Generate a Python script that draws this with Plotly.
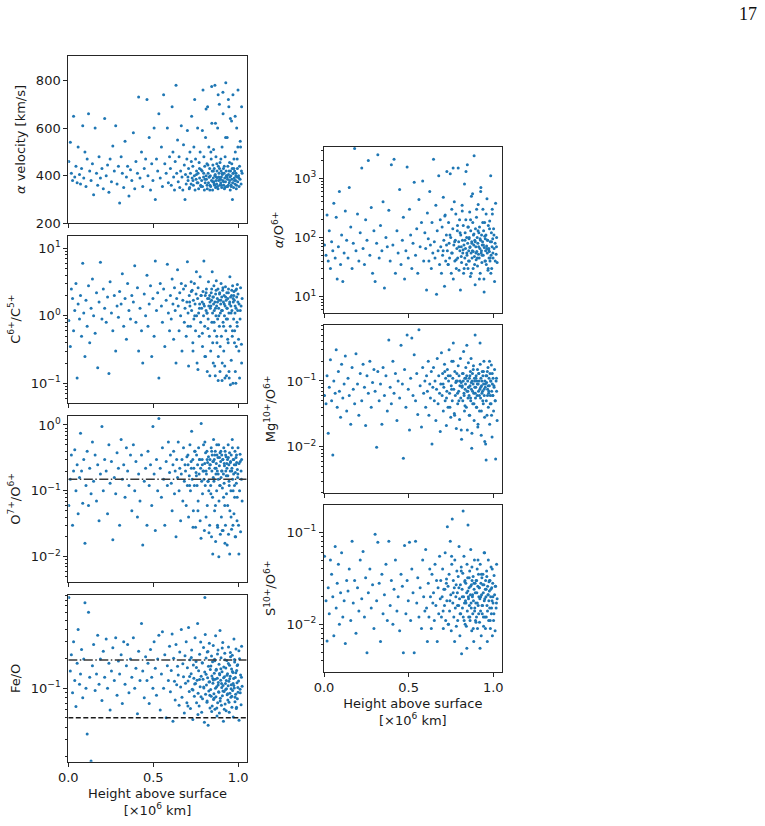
import math
import plotly.graph_objects as go

# ---------------- data ----------------
HEIGHT = [
    0.003, 0.012, 0.018, 0.025, 0.031, 0.038, 0.045, 0.052, 0.058, 0.066,
    0.072, 0.078, 0.085, 0.091, 0.098, 0.104, 0.111, 0.119, 0.126, 0.134,
    0.142, 0.149, 0.158, 0.166, 0.173, 0.181, 0.189, 0.198, 0.206, 0.214,
    0.223, 0.231, 0.239, 0.246, 0.254, 0.262, 0.271, 0.279, 0.287, 0.295,
    0.302, 0.311, 0.318, 0.326, 0.334, 0.342, 0.349, 0.357, 0.366, 0.374,
    0.383, 0.391, 0.398, 0.407, 0.414, 0.422, 0.431, 0.438, 0.447, 0.455,
    0.463, 0.469, 0.476, 0.484, 0.491, 0.498, 0.505, 0.512, 0.519, 0.526,
    0.533, 0.541, 0.548, 0.554, 0.561, 0.568, 0.576, 0.583, 0.589, 0.596,
    0.601, 0.606, 0.611, 0.616, 0.620, 0.625, 0.629, 0.634, 0.638, 0.643,
    0.647, 0.652, 0.656, 0.661, 0.665, 0.669, 0.674, 0.678, 0.683, 0.687,
    0.690, 0.694, 0.698, 0.701, 0.705, 0.708, 0.712, 0.716, 0.719, 0.723,
    0.726, 0.729, 0.733, 0.736, 0.739, 0.742, 0.746, 0.749, 0.752, 0.755,
    0.758, 0.761, 0.764, 0.767, 0.770, 0.773, 0.776, 0.779, 0.782, 0.785,
    0.788, 0.790, 0.793, 0.796, 0.798, 0.801, 0.803, 0.806, 0.808, 0.811,
    0.813, 0.816, 0.818, 0.820, 0.823, 0.825, 0.827, 0.830, 0.832, 0.834,
    0.836, 0.838, 0.841, 0.843, 0.845, 0.847, 0.849, 0.851, 0.853, 0.855,
    0.857, 0.859, 0.861, 0.863, 0.865, 0.867, 0.869, 0.871, 0.873, 0.875,
    0.877, 0.879, 0.881, 0.883, 0.885, 0.887, 0.889, 0.891, 0.893, 0.895,
    0.897, 0.899, 0.901, 0.903, 0.905, 0.907, 0.909, 0.911, 0.913, 0.915,
    0.917, 0.919, 0.921, 0.923, 0.925, 0.927, 0.929, 0.931, 0.933, 0.935,
    0.937, 0.939, 0.941, 0.943, 0.945, 0.947, 0.949, 0.951, 0.953, 0.955,
    0.957, 0.959, 0.961, 0.963, 0.965, 0.967, 0.969, 0.971, 0.973, 0.975,
    0.977, 0.979, 0.981, 0.983, 0.985, 0.987, 0.989, 0.991, 0.993, 0.995,
    0.997, 0.999, 1.002, 1.005, 1.008, 1.011, 1.014, 1.017, 1.020, 1.023,
    0.704, 0.714, 0.724, 0.734, 0.744, 0.754, 0.763, 0.772, 0.781, 0.789,
    0.797, 0.804, 0.811, 0.817, 0.822, 0.828, 0.833, 0.839, 0.844, 0.850,
    0.854, 0.858, 0.862, 0.866, 0.870, 0.874, 0.878, 0.882, 0.886, 0.890,
    0.894, 0.898, 0.902, 0.906, 0.910, 0.914, 0.918, 0.922, 0.926, 0.930,
    0.934, 0.938, 0.942, 0.946, 0.950, 0.954, 0.958, 0.962, 0.966, 0.970,
    0.974, 0.978, 0.982, 0.986, 0.990, 0.994, 0.998, 1.004, 1.012, 1.019,
]

ALPHA_VELOCITY = [
    460, 540, 410, 380, 650, 395, 440, 370, 520, 405,
    365, 430, 610, 390, 500, 355, 470, 660, 420, 380,
    450, 320, 600, 410, 360, 480, 390, 430, 345, 640,
    400, 445, 330, 470, 375, 525, 420, 610, 365, 440,
    285, 480, 410, 350, 545, 395, 440, 315, 425, 380,
    580, 345, 460, 410, 730, 390, 500, 355, 430, 470,
    720, 400, 560, 340, 450, 380, 600, 300, 470, 420,
    660, 390, 520, 355, 740, 450, 410, 600, 370, 480,
    430, 360, 690, 500, 395, 340, 460, 780, 410, 550,
    375, 480, 350, 420, 610, 395, 340, 530, 445, 300,
    405, 365, 470, 590, 380, 430, 345, 500, 410, 365,
    650, 390, 440, 360, 520, 400, 340, 470, 385, 420,
    370, 600, 410, 345, 455, 390, 500, 360, 425, 380,
    420, 355, 760, 395, 480, 340, 440, 370, 560, 400,
    385, 450, 345, 690, 410, 370, 520, 395, 430, 360,
    400, 355, 470, 380, 620, 420, 340, 445, 390, 510,
    375, 430, 360, 780, 405, 350, 480, 395, 365, 420,
    390, 600, 345, 440, 380, 410, 700, 360, 455, 385,
    370, 420, 395, 350, 520, 405, 380, 660, 430, 360,
    410, 345, 390, 480, 375, 790, 420, 355, 400, 560,
    385, 440, 360, 405, 690, 370, 455, 395, 340, 420,
    400, 355, 630, 385, 430, 370, 740, 410, 350, 470,
    390, 420, 365, 500, 380, 410, 345, 600, 395, 430,
    375, 760, 400, 355, 440, 385, 520, 365, 690, 410,
    395, 350, 460, 380, 720, 405, 370, 430, 355, 590,
    410, 385, 680, 360, 445, 395, 340, 500, 775, 375,
    420, 365, 400, 620, 380, 450, 355, 740, 395, 430,
    385, 470, 360, 410, 750, 375, 440, 350, 560, 400,
    395, 355, 720, 420, 380, 640, 360, 450, 300, 410,
    430, 380, 650, 400, 360, 470, 520, 390, 545, 420,
]

C6_C5 = [
    0.85, 0.35, 2.5, 1.8, 0.6, 1.2, 3.0, 0.12, 1.5, 0.9,
    2.0, 0.5, 6.0, 1.1, 0.25, 1.7, 0.7, 2.8, 0.4, 1.3,
    3.5, 1.0, 0.55, 2.2, 0.17, 1.6, 6.2, 0.9, 2.5, 1.3,
    0.8, 1.9, 0.14, 3.2, 1.1, 0.6, 2.0, 0.3, 1.4, 0.95,
    2.3, 1.5, 4.2, 0.7, 1.8, 0.45, 3.0, 1.2, 0.9, 2.0,
    1.6, 5.5, 0.8, 2.6, 0.3, 1.3, 0.6, 0.2, 2.1, 1.0,
    4.0, 0.7, 1.5, 2.8, 0.25, 1.8, 0.5, 6.5, 1.2, 2.2,
    0.12, 3.0, 1.4, 0.8, 2.5, 0.35, 1.7, 5.8, 1.1, 0.6,
    2.0, 0.9, 3.5, 1.5, 0.45, 2.6, 1.2, 0.2, 1.8, 4.8,
    1.4, 0.6, 2.2, 1.0, 3.0, 0.3, 1.7, 2.5, 0.8, 1.3,
    2.8, 0.5, 1.6, 6.3, 1.1, 0.18, 2.0, 1.4, 0.7, 3.2,
    1.2, 2.4, 0.4, 1.7, 0.9, 3.0, 1.5, 0.6, 2.1, 1.0,
    0.2, 1.8, 2.6, 1.1, 0.5, 1.5, 3.8, 0.8, 2.0, 1.3,
    1.6, 0.35, 2.3, 1.0, 6.5, 1.4, 0.7, 2.0, 0.25, 1.2,
    2.5, 1.1, 0.15, 1.8, 0.9, 3.2, 1.4, 0.5, 2.0, 1.6,
    1.3, 0.3, 2.2, 1.7, 0.8, 4.5, 1.1, 1.9, 0.2, 1.5,
    2.8, 1.2, 0.6, 1.6, 0.13, 2.1, 1.0, 3.3, 1.4, 0.4,
    1.8, 0.9, 2.5, 0.25, 1.3, 1.7, 0.7, 2.2, 0.15, 1.1,
    1.5, 3.0, 0.5, 1.9, 0.11, 1.2, 2.4, 0.8, 1.6, 0.3,
    2.0, 1.0, 0.18, 1.4, 2.7, 0.6, 1.7, 0.13, 2.2, 1.3,
    0.9, 1.8, 0.4, 2.5, 1.1, 0.12, 1.5, 3.8, 0.7, 1.9,
    1.4, 0.22, 2.0, 1.2, 0.5, 2.8, 0.1, 1.6, 0.9, 2.3,
    1.7, 0.6, 1.1, 0.15, 2.4, 1.3, 0.35, 1.9, 0.8, 2.9,
    1.2, 2.1, 0.45, 1.5, 0.12, 0.9, 2.6, 1.4, 0.2, 1.8,
    0.7, 1.6, 2.3, 0.3, 1.0, 4.5, 0.16, 1.3, 2.0, 0.55,
    1.5, 0.25, 2.2, 1.1, 0.65, 1.8, 0.13, 1.4, 2.5, 0.4,
    1.9, 0.8, 0.18, 1.3, 2.4, 0.5, 1.6, 0.11, 1.0, 2.1,
    0.35, 1.7, 1.2, 0.2, 2.6, 0.7, 1.5, 0.12, 1.9, 0.9,
    1.3, 0.45, 2.2, 0.15, 1.6, 0.095, 1.1, 2.4, 0.6, 1.8,
    2.0, 0.4, 1.4, 0.1, 2.5, 0.7, 1.6, 0.3, 1.2, 0.38,
]

O7_O6 = [
    0.06, 0.15, 0.35, 0.03, 0.2, 0.42, 0.1, 0.25, 0.045, 0.16,
    0.75, 0.2, 0.065, 0.3, 0.016, 0.12, 0.4, 0.06, 0.22, 0.09,
    0.55, 0.14, 0.35, 0.07, 0.25, 0.035, 0.18, 0.95, 0.1, 0.3,
    0.2, 0.045, 0.5, 0.13, 0.28, 0.018, 0.16, 0.09, 0.38, 0.22,
    0.03, 0.6, 0.15, 0.25, 0.08, 0.45, 0.2, 0.12, 0.35, 0.05,
    0.5, 0.1, 0.28, 0.04, 0.18, 0.07, 0.35, 0.015, 0.14, 0.22,
    0.03, 0.4, 0.12, 0.25, 0.06, 0.95, 0.18, 0.025, 0.3, 0.1,
    1.25, 0.22, 0.08, 0.45, 0.15, 0.03, 0.28, 0.12, 0.55, 0.19,
    0.35, 0.13, 0.05, 0.25, 0.4, 0.09, 0.2, 0.02, 0.3, 0.16,
    0.55, 0.1, 0.22, 0.035, 0.18, 0.3, 0.07, 0.45, 0.14, 0.25,
    0.2, 0.06, 0.33, 0.12, 0.25, 0.04, 0.17, 0.5, 0.1, 0.28,
    0.8, 0.15, 0.3, 0.05, 0.22, 0.12, 0.4, 0.028, 0.19, 0.35,
    0.12, 0.25, 0.07, 0.45, 0.18, 0.3, 0.035, 0.22, 1.05, 0.14,
    0.3, 0.09, 0.2, 0.5, 0.15, 0.025, 0.26, 0.12, 0.38, 0.2,
    0.18, 0.4, 0.06, 0.27, 0.14, 0.33, 0.1, 0.22, 0.03, 0.3,
    0.25, 0.12, 0.45, 0.02, 0.2, 0.35, 0.08, 0.28, 0.16, 0.6,
    0.14, 0.3, 0.05, 0.22, 0.4, 0.017, 0.18, 0.26, 0.1, 0.35,
    0.2, 0.028, 0.32, 0.15, 0.5, 0.07, 0.24, 0.12, 0.38, 0.022,
    0.28, 0.16, 0.04, 0.35, 0.2, 0.11, 0.3, 0.025, 0.18, 0.45,
    0.13, 0.24, 0.06, 0.4, 0.03, 0.2, 0.33, 0.09, 0.26, 0.015,
    0.3, 0.17, 0.5, 0.022, 0.25, 0.12, 0.38, 0.05, 0.2, 0.28,
    0.1, 0.35, 0.026, 0.22, 0.6, 0.15, 0.03, 0.3, 0.18, 0.045,
    0.25, 0.08, 0.4, 0.19, 0.02, 0.32, 0.13, 0.27, 0.035, 0.21,
    0.16, 0.45, 0.03, 0.26, 0.1, 0.36, 0.024, 0.2, 0.3, 0.07,
    0.35, 0.12, 0.22, 0.028, 0.4, 0.17, 0.05, 0.3, 0.019, 0.25,
    0.2, 0.55, 0.04, 0.3, 0.14, 0.023, 0.25, 0.09, 0.4, 0.011,
    0.28, 0.15, 0.35, 0.06, 0.22, 0.5, 0.03, 0.18, 0.01, 0.32,
    0.12, 0.4, 0.2, 0.025, 0.3, 0.08, 0.26, 0.016, 0.35, 0.17,
    0.22, 0.06, 0.32, 0.14, 0.011, 0.27, 0.04, 0.2, 0.45, 0.1,
    0.3, 0.12, 0.02, 0.25, 0.35, 0.08, 0.18, 0.011, 0.28, 0.15,
]

FE_O = [
    0.85, 0.15, 0.22, 0.09, 0.3, 0.12, 0.065, 0.18, 0.4, 0.11,
    0.14, 0.25, 0.08, 0.2, 0.75, 0.1, 0.034, 0.6, 0.13, 0.018,
    0.17, 0.28, 0.095, 0.14, 0.35, 0.11, 0.2, 0.075, 0.24, 0.13,
    0.32, 0.1, 0.18, 0.06, 0.15, 0.26, 0.12, 0.33, 0.085, 0.19,
    0.14, 0.22, 0.07, 0.3, 0.11, 0.17, 0.28, 0.09, 0.2, 0.13,
    0.33, 0.1, 0.16, 0.055, 0.24, 0.12, 0.46, 0.15, 0.08, 0.21,
    0.12, 0.18, 0.07, 0.25, 0.13, 0.1, 0.3, 0.16, 0.085, 0.2,
    0.35, 0.06, 0.14, 0.38, 0.1, 0.22, 0.05, 0.17, 0.12, 0.27,
    0.092, 0.152, 0.36, 0.046, 0.203, 0.118, 0.076, 0.28, 0.109, 0.168,
    0.137, 0.067, 0.236, 0.103, 0.4, 0.081, 0.178, 0.131, 0.056, 0.216,
    0.113, 0.3, 0.071, 0.162, 0.119, 0.42, 0.093, 0.196, 0.062, 0.141,
    0.247, 0.098, 0.048, 0.173, 0.127, 0.083, 0.33, 0.112, 0.188, 0.071,
    0.121, 0.46, 0.089, 0.151, 0.066, 0.223, 0.104, 0.298, 0.133, 0.057,
    0.183, 0.078, 0.124, 0.262, 0.101, 0.045, 0.147, 0.355, 0.087, 0.204,
    0.108, 0.072, 0.236, 0.128, 0.042, 0.168, 0.094, 0.29, 0.117, 0.063,
    0.156, 0.097, 0.083, 0.214, 0.134, 0.066, 0.187, 0.113, 0.275, 0.077,
    0.088, 0.143, 0.198, 0.061, 0.124, 0.345, 0.082, 0.157, 0.104, 0.052,
    0.127, 0.071, 0.246, 0.115, 0.092, 0.176, 0.056, 0.138, 0.39, 0.079,
    0.121, 0.205, 0.067, 0.102, 0.148, 0.084, 0.295, 0.107, 0.046, 0.165,
    0.093, 0.131, 0.228, 0.069, 0.112, 0.161, 0.059, 0.099, 0.193, 0.086,
    0.141, 0.076, 0.106, 0.265, 0.118, 0.057, 0.172, 0.089, 0.133, 0.21,
    0.081, 0.109, 0.158, 0.064, 0.218, 0.095, 0.145, 0.051, 0.126, 0.32,
    0.101, 0.186, 0.073, 0.129, 0.087, 0.252, 0.062, 0.152, 0.114, 0.078,
    0.174, 0.091, 0.119, 0.047, 0.201, 0.098, 0.137, 0.068, 0.27, 0.105,
    0.066, 0.132, 0.207, 0.096, 0.111, 0.163, 0.054, 0.123, 0.082, 0.182,
    0.103, 0.85, 0.139, 0.074, 0.238, 0.116, 0.085, 0.169, 0.058, 0.126,
    0.122, 0.079, 0.191, 0.1, 0.153, 0.063, 0.224, 0.108, 0.091, 0.142,
    0.074, 0.159, 0.112, 0.258, 0.094, 0.128, 0.061, 0.196, 0.097, 0.12,
    0.136, 0.088, 0.179, 0.072, 0.125, 0.232, 0.099, 0.083, 0.149, 0.112,
    0.107, 0.197, 0.081, 0.144, 0.064, 0.171, 0.102, 0.242, 0.09, 0.13,
]

ALPHA_O6 = [
    75, 50, 240, 40, 130, 30, 85, 60, 380, 45,
    220, 20, 70, 600, 35, 110, 18, 55, 280, 90,
    45, 700, 150, 30, 80, 3200, 60, 250, 40, 120,
    1500, 65, 35, 200, 90, 2000, 50, 320, 25, 130,
    18, 80, 2500, 45, 160, 60, 400, 14, 100, 70,
    290, 40, 1700, 75, 2100, 25, 130, 55, 650, 35,
    90, 220, 20, 60, 1550, 45, 300, 110, 30, 80,
    860, 50, 140, 25, 440, 70, 180, 900, 40, 120,
    65, 13, 260, 95, 40, 600, 75, 30, 180, 55,
    2100, 85, 45, 350, 11, 130, 60, 1100, 35, 200,
    70, 25, 150, 50, 480, 90, 15, 240, 40, 110,
    1300, 60, 35, 180, 80, 45, 1200, 100, 25, 300,
    55, 140, 20, 75, 400, 40, 90, 250, 30, 65,
    130, 45, 1500, 85, 28, 200, 60, 13, 110, 70,
    38, 350, 90, 55, 160, 25, 75, 800, 45, 120,
    65, 200, 35, 100, 50, 1700, 80, 30, 150, 60,
    95, 40, 270, 70, 22, 130, 55, 500, 85, 45,
    60, 180, 30, 110, 75, 2400, 48, 90, 16, 140,
    70, 42, 220, 58, 100, 33, 80, 360, 52, 120,
    45, 150, 65, 25, 90, 700, 55, 110, 38, 75,
    85, 300, 50, 130, 20, 68, 180, 40, 95, 60,
    110, 35, 72, 450, 55, 90, 28, 160, 62, 45,
    58, 190, 40, 85, 1100, 50, 120, 30, 70, 250,
    95, 45, 140, 65, 18, 80, 380, 52, 100, 38,
    60, 230, 75, 35, 110, 55, 1500, 85, 42, 160,
    70, 120, 48, 280, 62, 30, 90, 1300, 55, 150,
    40, 100, 68, 200, 25, 80, 550, 58, 115, 35,
    85, 55, 300, 45, 130, 70, 20, 95, 600, 60,
    50, 180, 75, 12, 105, 40, 250, 65, 90, 30,
    65, 140, 45, 25, 85, 300, 55, 110, 40, 70,
]

MG10_O6 = [
    0.06, 0.045, 0.12, 0.016, 0.08, 0.21, 0.05, 0.0075, 0.1, 0.065,
    0.3, 0.04, 0.14, 0.07, 0.028, 0.18, 0.055, 0.09, 0.24, 0.035,
    0.11, 0.06, 0.022, 0.16, 0.075, 0.045, 0.26, 0.09, 0.03, 0.13,
    0.05, 0.18, 0.08, 0.021, 0.12, 0.065, 0.2, 0.04, 0.095, 0.15,
    0.07, 0.0098, 0.14, 0.05, 0.09, 0.022, 0.16, 0.06, 0.12, 0.035,
    0.42, 0.08, 0.045, 0.2, 0.065, 0.13, 0.025, 0.1, 0.055, 0.35,
    0.09, 0.0067, 0.15, 0.04, 0.5, 0.075, 0.018, 0.11, 0.45, 0.06,
    0.25, 0.05, 0.13, 0.031, 0.6, 0.085, 0.02, 0.16, 0.065, 0.1,
    0.04, 0.12, 0.07, 0.2, 0.03, 0.09, 0.055, 0.14, 0.011, 0.08,
    0.16, 0.05, 0.1, 0.025, 0.075, 0.22, 0.045, 0.12, 0.065, 0.017,
    0.09, 0.27, 0.06, 0.13, 0.035, 0.08, 0.18, 0.05, 0.11, 0.021,
    0.07, 0.15, 0.04, 0.1, 0.3, 0.065, 0.12, 0.028, 0.085, 0.2,
    0.05, 0.11, 0.38, 0.075, 0.032, 0.14, 0.06, 0.095, 0.019, 0.13,
    0.1, 0.045, 0.17, 0.07, 0.12, 0.026, 0.085, 0.22, 0.055, 0.095,
    0.013, 0.08, 0.13, 0.05, 0.1, 0.28, 0.065, 0.035, 0.11, 0.075,
    0.09, 0.16, 0.04, 0.12, 0.07, 0.018, 0.1, 0.055, 0.19, 0.08,
    0.06, 0.11, 0.03, 0.085, 0.14, 0.05, 0.22, 0.075, 0.0095, 0.1,
    0.13, 0.045, 0.09, 0.17, 0.065, 0.025, 0.11, 0.08, 0.5, 0.055,
    0.08, 0.12, 0.04, 0.1, 0.06, 0.15, 0.02, 0.09, 0.07, 0.13,
    0.1, 0.035, 0.075, 0.18, 0.055, 0.11, 0.015, 0.085, 0.065, 0.14,
    0.07, 0.12, 0.045, 0.09, 0.2, 0.06, 0.028, 0.1, 0.08, 0.011,
    0.12, 0.05, 0.095, 0.03, 0.14, 0.075, 0.16, 0.04, 0.065, 0.11,
    0.085, 0.022, 0.13, 0.06, 0.1, 0.045, 0.175, 0.07, 0.014, 0.09,
    0.06, 0.11, 0.035, 0.08, 0.15, 0.05, 0.0065, 0.1, 0.07, 0.025,
    0.09, 0.14, 0.055, 0.12, 0.04, 0.075, 0.2, 0.03, 0.1, 0.065,
    0.05, 0.1, 0.018, 0.085, 0.13, 0.06, 0.042, 0.11, 0.35, 0.07,
    0.08, 0.03, 0.12, 0.055, 0.095, 0.016, 0.07, 0.15, 0.045, 0.1,
    0.065, 0.11, 0.04, 0.09, 0.022, 0.13, 0.06, 0.38, 0.08, 0.035,
    0.1, 0.05, 0.14, 0.075, 0.012, 0.09, 0.0063, 0.12, 0.06, 0.085,
    0.07, 0.2, 0.045, 0.1, 0.03, 0.13, 0.06, 0.085, 0.05, 0.11,
]

S10_O6 = [
    0.055, 0.018, 0.0066, 0.025, 0.013, 0.05, 0.035, 0.02, 0.0075, 0.07,
    0.015, 0.028, 0.045, 0.01, 0.022, 0.06, 0.012, 0.018, 0.0062, 0.03,
    0.023, 0.04, 0.011, 0.08, 0.017, 0.03, 0.008, 0.025, 0.014, 0.05,
    0.019, 0.062, 0.012, 0.032, 0.0049, 0.022, 0.04, 0.015, 0.027, 0.009,
    0.095, 0.018, 0.078, 0.028, 0.0065, 0.035, 0.013, 0.021, 0.045, 0.011,
    0.08, 0.016, 0.03, 0.01, 0.024, 0.05, 0.014, 0.02, 0.0085, 0.035,
    0.026, 0.0049, 0.072, 0.013, 0.03, 0.018, 0.078, 0.011, 0.04, 0.022,
    0.0049, 0.08, 0.017, 0.032, 0.012, 0.025, 0.009, 0.05, 0.02, 0.014,
    0.065, 0.015, 0.0065, 0.028, 0.012, 0.04, 0.02, 0.009, 0.035, 0.017,
    0.022, 0.011, 0.045, 0.016, 0.03, 0.0065, 0.025, 0.013, 0.055, 0.019,
    0.03, 0.012, 0.02, 0.04, 0.009, 0.024, 0.016, 0.06, 0.011, 0.028,
    0.018, 0.115, 0.026, 0.01, 0.035, 0.014, 0.08, 0.021, 0.0085, 0.045,
    0.14, 0.017, 0.03, 0.012, 0.025, 0.05, 0.015, 0.02, 0.0095, 0.038,
    0.022, 0.011, 0.033, 0.016, 0.07, 0.019, 0.0075, 0.027, 0.013, 0.042,
    0.0048, 0.024, 0.015, 0.036, 0.012, 0.02, 0.055, 0.017, 0.029, 0.01,
    0.018, 0.028, 0.0095, 0.022, 0.045, 0.014, 0.032, 0.12, 0.02, 0.012,
    0.025, 0.016, 0.038, 0.011, 0.021, 0.065, 0.017, 0.027, 0.0085, 0.03,
    0.02, 0.013, 0.033, 0.018, 0.0065, 0.024, 0.05, 0.015, 0.028, 0.011,
    0.017, 0.03, 0.012, 0.022, 0.04, 0.009, 0.026, 0.016, 0.035, 0.02,
    0.025, 0.0105, 0.019, 0.045, 0.014, 0.028, 0.0075, 0.021, 0.032, 0.013,
    0.016, 0.035, 0.022, 0.0095, 0.027, 0.018, 0.06, 0.012, 0.024, 0.03,
    0.02, 0.012, 0.038, 0.016, 0.0065, 0.026, 0.021, 0.05, 0.011, 0.029,
    0.023, 0.015, 0.03, 0.009, 0.02, 0.042, 0.013, 0.025, 0.018, 0.0075,
    0.028, 0.017, 0.011, 0.034, 0.021, 0.0085, 0.026, 0.015, 0.045, 0.019,
    0.014, 0.024, 0.031, 0.01, 0.018, 0.055, 0.022, 0.0065, 0.027, 0.016,
    0.025, 0.013, 0.038, 0.02, 0.17, 0.011, 0.03, 0.017, 0.0055, 0.023,
    0.019, 0.032, 0.012, 0.026, 0.015, 0.042, 0.021, 0.009, 0.028, 0.014,
    0.022, 0.0105, 0.03, 0.017, 0.05, 0.013, 0.025, 0.0055, 0.02, 0.035,
    0.016, 0.027, 0.012, 0.06, 0.019, 0.009, 0.024, 0.033, 0.014, 0.021,
    0.018, 0.03, 0.011, 0.024, 0.015, 0.04, 0.02, 0.013, 0.026, 0.017,
]

# reference levels
O_RATIO_LEVEL = 0.15
FE_O_UPPER = 0.195
FE_O_LOWER = 0.05

X_TICKS = [0.0, 0.5, 1.0]
X_TICK_TEXT = ["0.0", "0.5", "1.0"]
VEL_TICKS = [200, 400, 600, 800]

# ---------------- figure ----------------
W, H = 765, 826
FONT = "DejaVu Sans"
BLUE = "#1f77b4"
FRAME = "#262626"
TXT = "#1a1a1a"
FS = 13


def ypx(top, bottom):
    return [1 - bottom / H, 1 - top / H]


LEFT = [68.3 / W, 246.7 / W]
RIGHT = [324.0 / W, 501.7 / W]

panels = [
    (ALPHA_VELOCITY, "<i>α</i> velocity [km/s]", LEFT, (55.7, 223.3), False, [200, 904], False),
    (C6_C5, "C<sup>6+</sup>/C<sup>5+</sup>", LEFT, (235.7, 402.7), True, [-1.287, 1.187], False),
    (O7_O6, "O<sup>7+</sup>/O<sup>6+</sup>", LEFT, (415.7, 582.3), True, [-2.389, 0.141], False),
    (FE_O, "Fe/O", LEFT, (595.0, 761.7), True, [-1.751, -0.045], True),
    (ALPHA_O6, "<i>α</i>/O<sup>6+</sup>", RIGHT, (146.7, 313.3), True, [0.72, 3.534], False),
    (MG10_O6, "Mg<sup>10+</sup>/O<sup>6+</sup>", RIGHT, (325.0, 492.7), True, [-2.70, -0.148], False),
    (S10_O6, "S<sup>10+</sup>/O<sup>6+</sup>", RIGHT, (505.0, 671.7), True, [-2.515, -0.703], True),
]


def decade_label(e):
    return "10<sup>" + str(e).replace("-", "\u2212") + "</sup>"


fig = go.Figure()
layout = dict(
    width=W, height=H, autosize=False,
    margin=dict(l=0, r=0, t=0, b=0, pad=0),
    paper_bgcolor="white", plot_bgcolor="white",
    showlegend=False,
    font=dict(family=FONT, size=FS, color=TXT),
)

for i, (vals, title, dx, (top, bot), is_log, rng, bottom) in enumerate(panels, start=1):
    xa = "x" if i == 1 else f"x{i}"
    ya = "y" if i == 1 else f"y{i}"
    fig.add_trace(go.Scatter(
        x=HEIGHT, y=vals, mode="markers", xaxis=xa, yaxis=ya,
        marker=dict(color=BLUE, size=3.0, line=dict(width=0)),
        hoverinfo="skip",
    ))
    xkey = "xaxis" if i == 1 else f"xaxis{i}"
    ykey = "yaxis" if i == 1 else f"yaxis{i}"
    xcfg = dict(
        domain=dx, anchor=ya, range=[0, 1.05], automargin=False,
        tickmode="array", tickvals=X_TICKS, ticktext=X_TICK_TEXT,
        showticklabels=bottom, ticks="outside", ticklen=4, tickwidth=1,
        tickcolor=FRAME, showline=True, linecolor=FRAME, linewidth=1,
        mirror=True, showgrid=False, zeroline=False,
        tickfont=dict(family=FONT, size=FS, color=TXT),
    )
    if bottom:
        xcfg["title"] = dict(text="Height above surface<br>[×10<sup>6</sup> km]",
                             font=dict(family=FONT, size=FS, color=TXT), standoff=4)
    layout[xkey] = xcfg
    ycfg = dict(
        domain=ypx(top, bot), anchor=xa, range=rng, automargin=False,
        ticks="outside", ticklen=4, tickwidth=1, tickcolor=FRAME,
        showline=True, linecolor=FRAME, linewidth=1, mirror=True,
        showgrid=False, zeroline=False,
        tickfont=dict(family=FONT, size=FS, color=TXT),
        title=dict(text=title, font=dict(family=FONT, size=FS, color=TXT), standoff=7),
    )
    if is_log:
        lo, hi = math.floor(rng[0]), math.ceil(rng[1])
        majors = [10.0 ** e for e in range(lo, hi + 1)]
        texts = [decade_label(e) for e in range(lo, hi + 1)]
        minors = [m * 10.0 ** e for e in range(lo - 1, hi + 1) for m in range(2, 10)]
        ycfg.update(
            type="log", tickmode="array", tickvals=majors, ticktext=texts,
            minor=dict(tickmode="array", tickvals=minors, ticks="outside",
                       ticklen=2, tickwidth=0.8, tickcolor=FRAME, showgrid=False),
        )
    else:
        ycfg.update(tickmode="array", tickvals=VEL_TICKS,
                    ticktext=[str(v) for v in VEL_TICKS])
    layout[ykey] = ycfg

# reference lines
LINE_X = [0, 1.05]
DASHDOT = "9px,2.5px,1.5px,2.5px"
fig.add_trace(go.Scatter(x=LINE_X, y=[O_RATIO_LEVEL] * 2, mode="lines", xaxis="x3", yaxis="y3",
                         line=dict(color="#3a3a3a", width=1.5, dash=DASHDOT), hoverinfo="skip"))
fig.add_trace(go.Scatter(x=LINE_X, y=[FE_O_UPPER] * 2, mode="lines", xaxis="x4", yaxis="y4",
                         line=dict(color="#3a3a3a", width=1.5, dash=DASHDOT), hoverinfo="skip"))
fig.add_trace(go.Scatter(x=LINE_X, y=[FE_O_LOWER] * 2, mode="lines", xaxis="x4", yaxis="y4",
                         line=dict(color="#1a1a1a", width=1.3, dash="5px,2.5px"), hoverinfo="skip"))

layout["annotations"] = [dict(
    text="17", x=748 / W, y=1 - 14 / H, xref="paper", yref="paper",
    xanchor="center", yanchor="middle", showarrow=False,
    font=dict(family="Liberation Serif", size=18, color="#111"),
)]

fig.update_layout(**layout)
fig.write_html("out.html")
